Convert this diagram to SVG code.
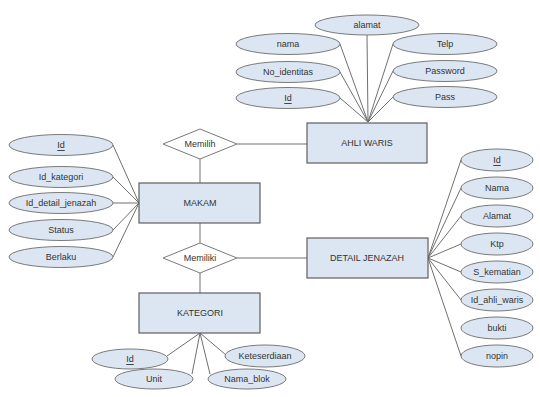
<svg xmlns="http://www.w3.org/2000/svg" width="540" height="397" viewBox="0 0 540 397">
  <style>
    .ent { fill: #dce6f2; stroke: #5f5f5f; stroke-width: 1.2; }
    .att { fill: #dce6f2; stroke: #7a7a7a; stroke-width: 1; }
    .rel { fill: #ffffff; stroke: #7a7a7a; stroke-width: 1; }
    .ln { stroke: #707070; stroke-width: 1; fill: none; }
    text { font-family: "Liberation Sans", Arial, sans-serif; font-size: 9px; fill: #333333; text-anchor: middle; dominant-baseline: central; }
    .key { text-decoration: underline; }
  </style>
  <rect width="540" height="397" fill="#ffffff"/>

  <!-- connectors -->
  <g id="connectors">
    <!-- AHLI WARIS attributes -->
    <line class="ln" x1="368" y1="122" x2="340" y2="44"/>
    <line class="ln" x1="368" y1="122" x2="340" y2="72"/>
    <line class="ln" x1="368" y1="122" x2="340" y2="98"/>
    <line class="ln" x1="368" y1="122" x2="367" y2="35"/>
    <line class="ln" x1="368" y1="122" x2="393" y2="44"/>
    <line class="ln" x1="368" y1="122" x2="393" y2="71"/>
    <line class="ln" x1="368" y1="122" x2="393" y2="97"/>
    <!-- MAKAM attributes -->
    <line class="ln" x1="139" y1="203" x2="113" y2="145"/>
    <line class="ln" x1="139" y1="203" x2="113" y2="177"/>
    <line class="ln" x1="139" y1="203" x2="113" y2="203"/>
    <line class="ln" x1="139" y1="203" x2="113" y2="230"/>
    <line class="ln" x1="139" y1="203" x2="113" y2="257"/>
    <!-- DETAIL JENAZAH attributes -->
    <line class="ln" x1="428" y1="258" x2="461" y2="160"/>
    <line class="ln" x1="428" y1="258" x2="461" y2="188"/>
    <line class="ln" x1="428" y1="258" x2="461" y2="216"/>
    <line class="ln" x1="428" y1="258" x2="461" y2="244"/>
    <line class="ln" x1="428" y1="258" x2="461" y2="272"/>
    <line class="ln" x1="428" y1="258" x2="461" y2="300"/>
    <line class="ln" x1="428" y1="258" x2="461" y2="356"/>
    <!-- KATEGORI attributes -->
    <line class="ln" x1="200" y1="333" x2="167" y2="356"/>
    <line class="ln" x1="200" y1="333" x2="192" y2="374"/>
    <line class="ln" x1="200" y1="333" x2="210" y2="374"/>
    <line class="ln" x1="200" y1="333" x2="226" y2="355"/>
    <!-- relationships -->
    <line class="ln" x1="237" y1="144" x2="307" y2="144"/>
    <line class="ln" x1="200" y1="159" x2="200" y2="183"/>
    <line class="ln" x1="200" y1="223" x2="200" y2="243"/>
    <line class="ln" x1="237" y1="258" x2="307" y2="258"/>
    <line class="ln" x1="200" y1="273" x2="200" y2="293"/>
  </g>

  <!-- entities -->
  <g id="ahli-waris">
    <rect class="ent" x="307" y="123" width="120" height="40"/>
    <text x="367" y="143">AHLI WARIS</text>
  </g>
  <g id="makam">
    <rect class="ent" x="139" y="183" width="121" height="40"/>
    <text x="200" y="203">MAKAM</text>
  </g>
  <g id="detail-jenazah">
    <rect class="ent" x="307" y="238" width="121" height="40"/>
    <text x="367" y="258">DETAIL JENAZAH</text>
  </g>
  <g id="kategori">
    <rect class="ent" x="139" y="293" width="121" height="40"/>
    <text x="200" y="313">KATEGORI</text>
  </g>

  <!-- relationships -->
  <g id="memilih">
    <polygon class="rel" points="200,129 237,144 200,159 163,144"/>
    <text x="200" y="144">Memilih</text>
  </g>
  <g id="memiliki">
    <polygon class="rel" points="200,243 237,258 200,273 163,258"/>
    <text x="200" y="258">Memiliki</text>
  </g>

  <!-- AHLI WARIS attributes -->
  <g id="aw-alamat"><ellipse class="att" cx="367" cy="25" rx="52" ry="10"/><text x="367" y="25">alamat</text></g>
  <g id="aw-nama"><ellipse class="att" cx="288" cy="44" rx="52" ry="10.5"/><text x="288" y="44">nama</text></g>
  <g id="aw-no-identitas"><ellipse class="att" cx="288" cy="72" rx="52" ry="10.5"/><text x="288" y="72">No_identitas</text></g>
  <g id="aw-id"><ellipse class="att" cx="288" cy="98" rx="52" ry="10.5"/><text class="key" x="288" y="98">Id</text></g>
  <g id="aw-telp"><ellipse class="att" cx="445" cy="44" rx="52" ry="10.5"/><text x="445" y="44">Telp</text></g>
  <g id="aw-password"><ellipse class="att" cx="445" cy="71" rx="52" ry="10.5"/><text x="445" y="71">Password</text></g>
  <g id="aw-pass"><ellipse class="att" cx="445" cy="97" rx="52" ry="10.5"/><text x="445" y="97">Pass</text></g>

  <!-- MAKAM attributes -->
  <g id="mk-id"><ellipse class="att" cx="61" cy="145" rx="52" ry="10.5"/><text class="key" x="61" y="145">Id</text></g>
  <g id="mk-id-kategori"><ellipse class="att" cx="61" cy="177" rx="52" ry="10.5"/><text x="61" y="177">Id_kategori</text></g>
  <g id="mk-id-detail"><ellipse class="att" cx="61" cy="203" rx="52" ry="10.5"/><text x="61" y="203">Id_detail_jenazah</text></g>
  <g id="mk-status"><ellipse class="att" cx="61" cy="230" rx="52" ry="10.5"/><text x="61" y="230">Status</text></g>
  <g id="mk-berlaku"><ellipse class="att" cx="61" cy="257" rx="52" ry="10.5"/><text x="61" y="257">Berlaku</text></g>

  <!-- DETAIL JENAZAH attributes -->
  <g id="dj-id"><ellipse class="att" cx="497" cy="160" rx="36" ry="11"/><text class="key" x="497" y="160">Id</text></g>
  <g id="dj-nama"><ellipse class="att" cx="497" cy="188" rx="36" ry="11"/><text x="497" y="188">Nama</text></g>
  <g id="dj-alamat"><ellipse class="att" cx="497" cy="216" rx="36" ry="11"/><text x="497" y="216">Alamat</text></g>
  <g id="dj-ktp"><ellipse class="att" cx="497" cy="244" rx="36" ry="11"/><text x="497" y="244">Ktp</text></g>
  <g id="dj-s-kematian"><ellipse class="att" cx="497" cy="272" rx="36" ry="11"/><text x="497" y="272">S_kematian</text></g>
  <g id="dj-id-ahli-waris"><ellipse class="att" cx="497" cy="300" rx="36" ry="11"/><text x="497" y="300">Id_ahli_waris</text></g>
  <g id="dj-bukti"><ellipse class="att" cx="497" cy="328" rx="36" ry="11"/><text x="497" y="328">bukti</text></g>
  <g id="dj-nopin"><ellipse class="att" cx="497" cy="356" rx="36" ry="11"/><text x="497" y="356">nopin</text></g>

  <!-- KATEGORI attributes -->
  <g id="kt-id"><ellipse class="att" cx="130" cy="359" rx="38" ry="10"/><text class="key" x="130" y="359">Id</text></g>
  <g id="kt-unit"><ellipse class="att" cx="154" cy="379" rx="39" ry="10"/><text x="154" y="379">Unit</text></g>
  <g id="kt-nama-blok"><ellipse class="att" cx="247" cy="379" rx="39" ry="10"/><text x="247" y="379">Nama_blok</text></g>
  <g id="kt-keteserdiaan"><ellipse class="att" cx="265" cy="356" rx="40" ry="11"/><text x="265" y="356">Keteserdiaan</text></g>
</svg>
